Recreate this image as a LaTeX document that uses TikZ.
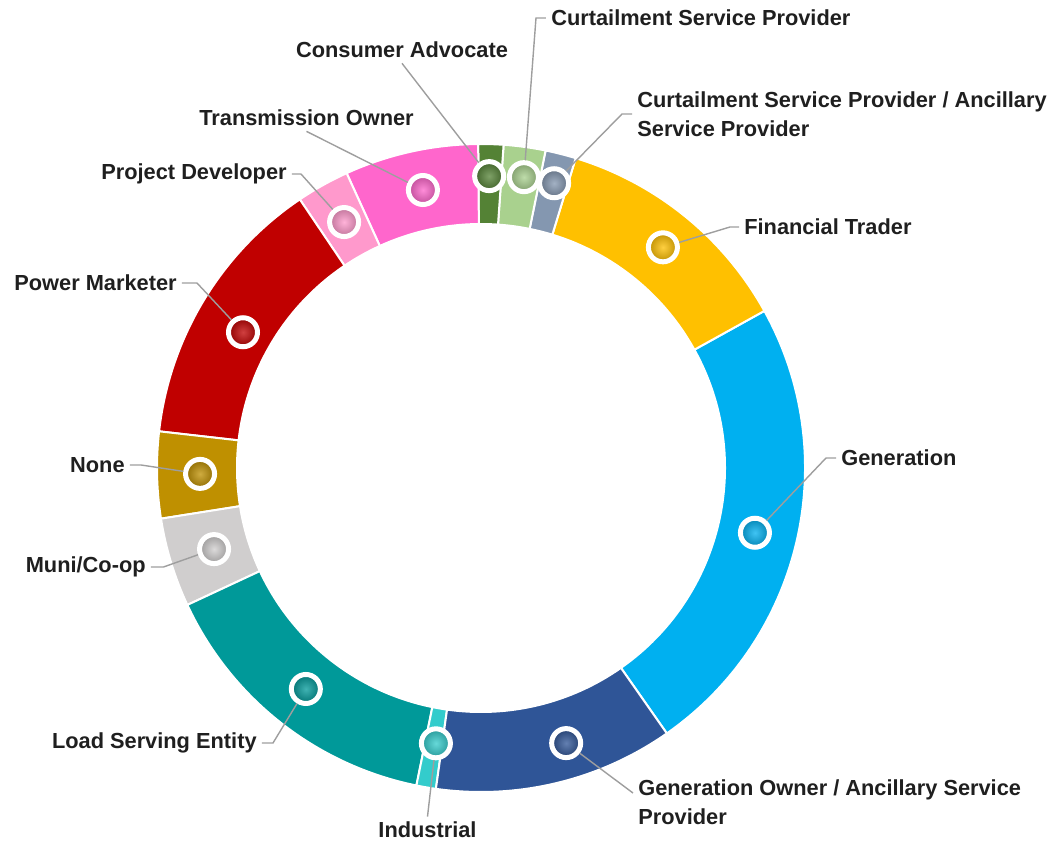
\documentclass[tikz,border=0pt]{standalone}
\usepackage{fontspec}
\setmainfont{Liberation Sans}
\usepackage{tikz}
\definecolor{cGen}{HTML}{00B0F0}
\definecolor{cFT}{HTML}{FFC000}
\definecolor{cCSA}{HTML}{8497B0}
\definecolor{cCSP}{HTML}{A9D18E}
\definecolor{cCA}{HTML}{548235}
\definecolor{cTO}{HTML}{FF66CC}
\definecolor{cPD}{HTML}{FF99CC}
\definecolor{cPM}{HTML}{C00000}
\definecolor{cNone}{HTML}{BF9000}
\definecolor{cMuni}{HTML}{D0CECE}
\definecolor{cLSE}{HTML}{009999}
\definecolor{cInd}{HTML}{33CCCC}
\definecolor{cGO}{HTML}{2F5597}

\begin{document}
\begin{tikzpicture}[
		dot/.style={circle, draw=white, line width=0.1cm, minimum size=0.58cm, inner sep=0pt, inner color=#1!75!white, outer color=#1!75!black},
		lbl/.style={font=\bfseries\fontsize{12.4}{16.2}\selectfont, text=black!88, inner sep=0.1cm, align=left},
		leader/.style={draw=black!38, line width=0.8pt}
	]
				\useasboundingbox (-9.62,-7.5) rectangle (11.56,9.36);
				\begin{scope}
					% ring segments: start angle / end angle / colour
					\foreach \a/\b/\c in {-55/29/cGen, 29/73/cFT, 73/78.5/cCSA, 78.5/86/cCSP, 86/90.5/cCA, 90.5/114.5/cTO, 114.5/124/cPD, 124/173.5/cPM, 173.5/189/cNone, 189/205/cMuni, 205/258.5/cLSE, 258.5/262/cInd, 262/305/cGO}
						\filldraw[fill=\c, draw=white, line width=0.04cm] (\a:6.48) arc[start angle=\a, end angle=\b, radius=6.48] -- (\b:4.88) arc[start angle=\b, end angle=\a, radius=4.88] -- cycle;

					\node[dot=cGen] (mGen) at (-13.3:5.63) {};
					\node[dot=cFT] (mFT) at (50.5:5.72) {};
					\node[dot=cCSA] (mCSA) at (75.6:5.88) {};
					\node[dot=cCSP] (mCSP) at (81.6:5.88) {};
					\node[dot=cCA] (mCA) at (88.4:5.84) {};
					\node[dot=cTO] (mTO) at (101.8:5.68) {};
					\node[dot=cPD] (mPD) at (119.1:5.63) {};
					\node[dot=cPM] (mPM) at (150.3:5.48) {};
					\node[dot=cNone] (mNone) at (181.2:5.62) {};
					\node[dot=cMuni] (mMuni) at (196.9:5.58) {};
					\node[dot=cLSE] (mLSE) at (231.6:5.64) {};
					\node[dot=cInd] (mInd) at (260.7:5.58) {};
					\node[dot=cGO] (mGO) at (287.2:5.76) {};

					\node[lbl, anchor=west] (lCSP) at (1.30,9.00) {Curtailment Service Provider};
					\node[lbl] (lCA) at (-1.58,8.36) {Consumer Advocate};
					\node[lbl, anchor=west] (lCSA) at (3.02,7.08) {Curtailment Service Provider / Ancillary\\Service Provider};
					\node[lbl] (lTO) at (-3.49,7.00) {Transmission Owner};
					\node[lbl, anchor=east] (lPD) at (-3.78,5.88) {Project Developer};
					\node[lbl, anchor=west] (lFT) at (5.16,4.82) {Financial Trader};
					\node[lbl, anchor=east] (lPM) at (-5.98,3.70) {Power Marketer};
					\node[lbl, anchor=east] (lNone) at (-7.02,0.06) {None};
					\node[lbl, anchor=west] (lGen) at (7.10,0.20) {Generation};
					\node[lbl, anchor=east] (lMuni) at (-6.60,-1.98) {Muni/Co-op};
					\node[lbl, anchor=east] (lLSE) at (-4.38,-5.50) {Load Serving Entity};
					\node[lbl] (lInd) at (-1.07,-7.24) {Industrial};
					\node[lbl, anchor=west] (lGO) at (3.04,-6.68) {Generation Owner / Ancillary Service\\Provider};

					\draw[leader] (lCSP.west) -- ++(-0.2,0) -- (mCSP); % top
					\draw[leader] (lCA.south) -- (mCA);
					\draw[leader] (lCSA.west) -- ++(-0.2,0) -- (mCSA);
					\draw[leader] (lTO.south) -- (mTO);
					\draw[leader] (lPD.east) -- ++(0.18,0) -- (mPD);
					\draw[leader] (lFT.west) -- ++(-0.18,0) -- (mFT);
					\draw[leader] (lPM.east) -- ++(0.3,0) -- (mPM);
					\draw[leader] (lNone.east) -- ++(0.22,0) -- (mNone);
					\draw[leader] (lGen.west) -- ++(-0.2,0) -- (mGen);
					\draw[leader] (lMuni.east) -- ++(0.25,0) -- (mMuni);
					\draw[leader] (lLSE.east) -- ++(0.22,0) -- (mLSE);
					\draw[leader] (lInd.north) -- (mInd); % bottom
					\draw[leader] ([yshift=0.18cm]lGO.west) -- (mGO);
				\end{scope}
			\end{tikzpicture}
\end{document}
